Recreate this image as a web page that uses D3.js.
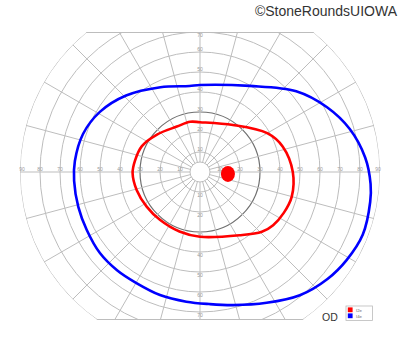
<!DOCTYPE html>
<html><head><meta charset="utf-8">
<script src="https://cdn.jsdelivr.net/npm/d3@7"></script>
<style>body{margin:0;background:#fff}svg{display:block}</style>
</head><body>
<svg id="c" width="400" height="352"></svg>
<script>
// ---- data ----
const rings = [5, 10, 20, 30, 40, 50, 60, 70, 80, 90];
const ringLabelsH = [10, 20, 30, 40, 50, 60, 70, 80, 90];
const ringLabelsV = [10, 20, 30, 40, 50, 60, 70];
const meridians = d3.range(0, 360, 15);
const fieldTop = 70;      // superior extent of chart (deg)
const fieldBottom = 74;   // inferior extent of chart (deg)
// isopter I2e: [meridian deg (0 = right, counter-clockwise), eccentricity deg]
const i2eMeridian = [0, 17, 30, 55, 90, 101, 117, 139, 156, 170, 181, 196, 213, 230, 251, 270, 302, 316, 324, 334, 345];
const i2eEcc      = [46.4, 43.3, 38.8, 28.7, 24.9, 25.6, 25.5, 28.5, 31.8, 33, 33.7, 32.9, 31.8, 31.2, 31.5, 32.4, 37.3, 43, 45.2, 46.6, 47.5];
// isopter I4e
const i4eMeridian = [5, 16, 27, 40, 60, 90, 97, 115, 134, 149, 162, 175, 184, 196, 207, 219, 230, 240, 252, 264, 274, 284, 297, 309, 320, 329, 339, 350, 356];
const i4eEcc      = [82.9, 77.9, 71.3, 62.8, 49.7, 43.5, 43.3, 46.8, 53.2, 58.4, 61.5, 62.8, 63.1, 63.3, 63.6, 64.4, 64.3, 64, 64.7, 65.2, 66.2, 68.6, 73.4, 79.3, 83.2, 85.5, 87.2, 86.4, 85.5];
// blind spot
const blindSpot = {meridian: -4, ecc: 14, rx: 3.5, ry: 4};
const legendNames = ["I2e", "I4e"];
const legendColors = ["#ff0000", "#0000ff"];
const eyeLabel = "OD";
const copyright = "©StoneRoundsUIOWA";

// ---- drawing ----
const cx = 200, cy = 172;
const svg = d3.select("#c");
const r = d3.scaleLinear().domain([0, 90]).range([0, 180]);
const rad = d => d * Math.PI / 180;
const px = (m, e) => cx + r(e) * Math.cos(rad(m));
const py = (m, e) => cy - r(e) * Math.sin(rad(m));

const defs = svg.append("defs");
defs.append("clipPath").attr("id", "clipRect").append("rect")
  .attr("x", 0).attr("y", cy - r(fieldTop)).attr("width", 400).attr("height", r(fieldTop) + r(fieldBottom));
defs.append("clipPath").attr("id", "clipCirc").append("circle")
  .attr("cx", cx).attr("cy", cy).attr("r", r(90));

const outer = svg.append("g").attr("clip-path", "url(#clipRect)");
const grid = outer.append("g").attr("clip-path", "url(#clipCirc)");
const gridColor = "#bdbdbd";

// rings
grid.selectAll("circle.ring").data(rings).join("circle")
  .attr("cx", cx).attr("cy", cy).attr("r", d => r(d))
  .attr("fill", "none")
  .attr("stroke", d => d === 30 ? "#707070" : gridColor)
  .attr("stroke-width", d => d === 30 ? 1.2 : 1);
// meridians
grid.selectAll("line.mer").data(meridians).join("line")
  .attr("x1", d => px(d, 5)).attr("y1", d => py(d, 5))
  .attr("x2", d => px(d, 95)).attr("y2", d => py(d, 95))
  .attr("stroke", gridColor).attr("stroke-width", 1);
// top/bottom boundary lines
grid.append("line").attr("x1", 0).attr("x2", 400)
  .attr("y1", cy - r(fieldTop) + 0.5).attr("y2", cy - r(fieldTop) + 0.5)
  .attr("stroke", gridColor);
grid.append("line").attr("x1", 0).attr("x2", 400)
  .attr("y1", cy + r(fieldBottom) - 0.5).attr("y2", cy + r(fieldBottom) - 0.5)
  .attr("stroke", gridColor);

// ring labels
const lab = svg.append("g").attr("font-family", "Liberation Sans, Arial, sans-serif")
  .attr("font-size", 5).attr("fill", "#9a9a9a").attr("text-anchor", "middle");
ringLabelsH.forEach(v => {
  [1, -1].forEach(s => {
    let x = cx + s * r(v);
    x = Math.max(22, Math.min(378, x));
    lab.append("text").attr("x", x).attr("y", cy - 1).text(v);
  });
});
ringLabelsV.forEach(v => {
  let yt = Math.max(cy - r(v) - 3, cy - r(fieldTop) + 3);
  lab.append("text").attr("x", cx).attr("y", yt).attr("dy", "0.35em").text(v);
  lab.append("text").attr("x", cx).attr("y", cy + r(v) + 3).attr("dy", "0.35em").text(v);
});

// isopters
const line = d3.lineRadial()
  .angle(d => rad(90 - d[0]))
  .radius(d => r(d[1]))
  .curve(d3.curveCatmullRomClosed.alpha(0.5));
const plot = svg.append("g").attr("transform", `translate(${cx},${cy})`);
plot.append("path").datum(d3.zip(i4eMeridian, i4eEcc)).attr("d", line)
  .attr("fill", "none").attr("stroke", legendColors[1]).attr("stroke-width", 2.6);
plot.append("path").datum(d3.zip(i2eMeridian, i2eEcc)).attr("d", line)
  .attr("fill", "none").attr("stroke", legendColors[0]).attr("stroke-width", 2.6);
svg.append("ellipse")
  .attr("cx", px(blindSpot.meridian, blindSpot.ecc)).attr("cy", py(blindSpot.meridian, blindSpot.ecc))
  .attr("rx", r(blindSpot.rx)).attr("ry", r(blindSpot.ry)).attr("fill", legendColors[0]);

// legend
const lg = svg.append("g").attr("transform", "translate(346,306)");
lg.append("rect").attr("width", 26.5).attr("height", 14.5).attr("fill", "#fff")
  .attr("stroke", "#bbb").attr("stroke-width", 0.8);
legendNames.forEach((n, i) => {
  lg.append("rect").attr("x", 1.8).attr("y", 1.4 + i * 6).attr("width", 4.8).attr("height", 4.8).attr("fill", legendColors[i]);
  lg.append("text").attr("x", 10).attr("y", 5.6 + i * 6).attr("font-size", 4.2)
    .attr("font-family", "Liberation Sans, Arial, sans-serif").attr("fill", "#666").text(n);
});
svg.append("text").attr("x", 322).attr("y", 320.5).attr("font-size", 10.5)
  .attr("font-family", "Liberation Sans, Arial, sans-serif").attr("fill", "#333").text(eyeLabel);
svg.append("text").attr("x", 397).attr("y", 16).attr("text-anchor", "end").attr("font-size", 14)
  .attr("font-family", "Liberation Sans, Arial, sans-serif").attr("fill", "#333").text(copyright);
</script>
</body></html>
